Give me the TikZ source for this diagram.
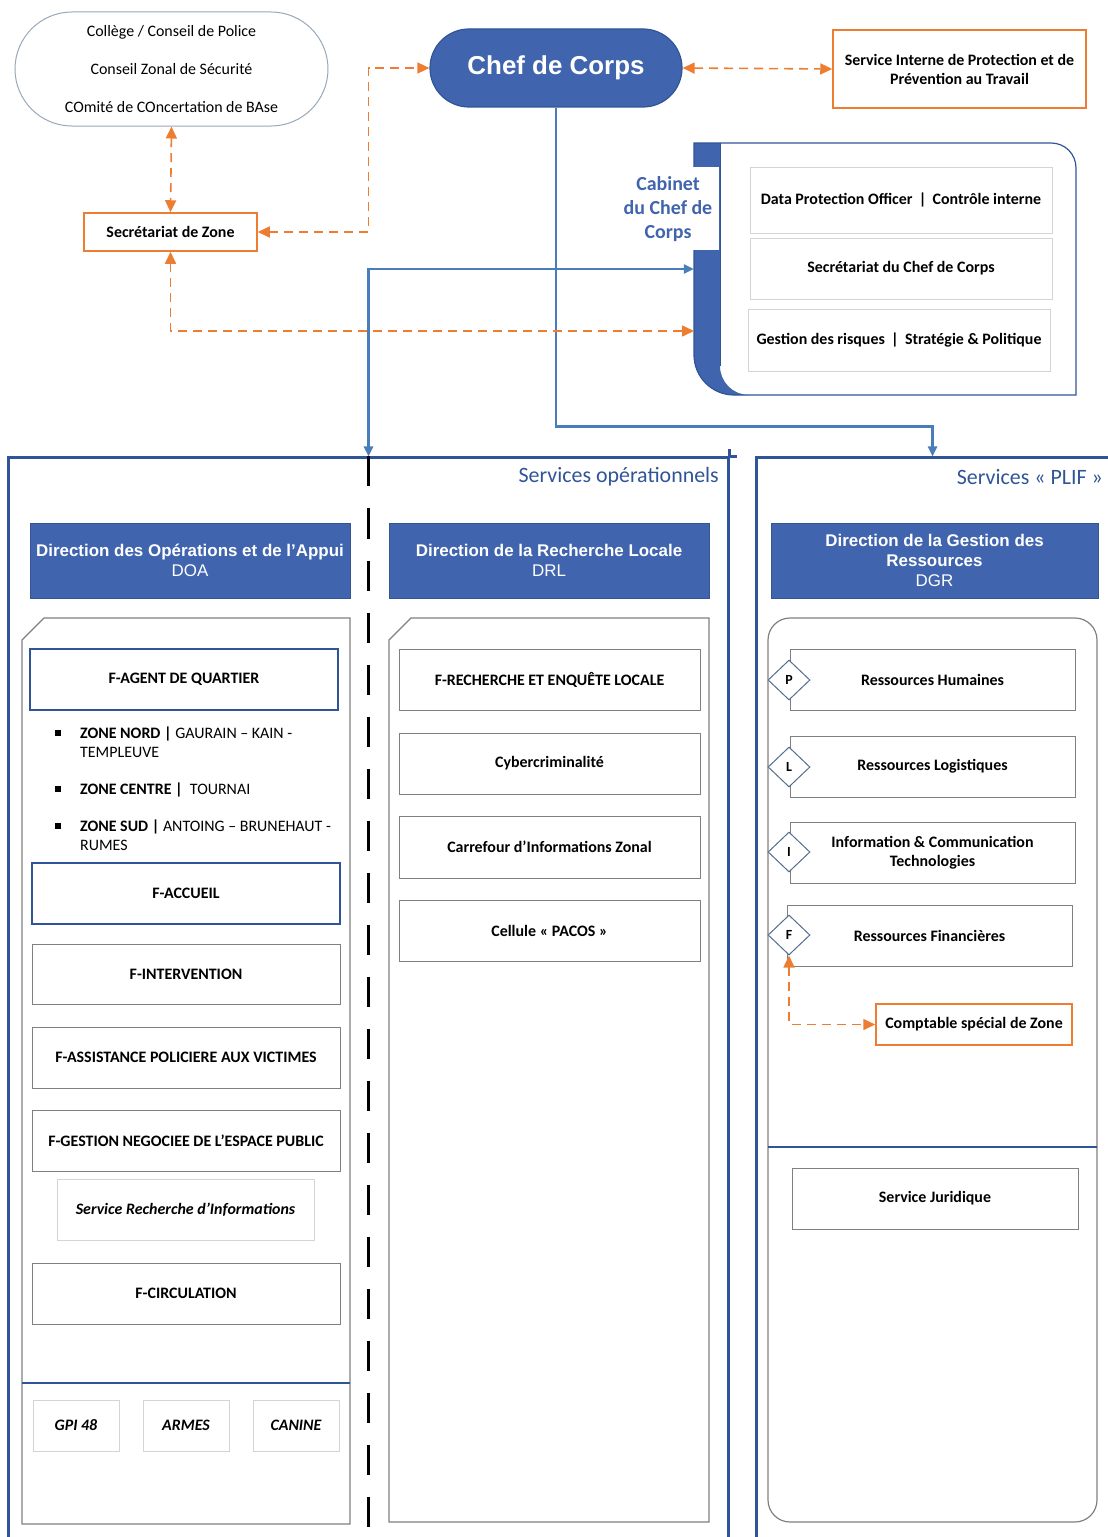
\documentclass[tikz,border=0pt]{standalone}
\usepackage{fontspec}
\setmainfont{Carlito}
\newfontfamily\arialfont{Liberation Sans}
\usetikzlibrary{arrows.meta,shapes.geometric}

\definecolor{hdrblue}{RGB}{64,100,173}
\definecolor{frameblue}{RGB}{47,85,151}
\definecolor{linkblue}{RGB}{74,126,187}
\definecolor{orng}{RGB}{237,125,49}
\definecolor{boxgray}{RGB}{128,128,128}
\definecolor{softgray}{RGB}{212,212,212}
\definecolor{tagline}{RGB}{84,110,140}

\tikzset{
  txt/.style={font=\fontsize{16}{19}\selectfont\bfseries, align=center, inner sep=0pt},
  itxt/.style={font=\fontsize{16}{19}\selectfont\bfseries\itshape},
  orbox/.style={txt, draw=orng, line width=1.5bp},
  cell/.style={txt, draw=boxgray, line width=0.8bp, minimum width=308bp, minimum height=61bp},
  keycell/.style={cell, draw=frameblue, line width=1.5bp},
  soft/.style={txt, draw=softgray, line width=0.8bp},
  hdr/.style={fill=hdrblue, draw=hdrblue!85!black, text=white, align=center, inner sep=0pt,
    font=\arialfont\fontsize{17}{20}\selectfont, minimum width=320bp, minimum height=75bp},
  tag/.style={diamond, draw=tagline, fill=white, line width=1bp, minimum width=42bp,
    minimum height=40bp, inner sep=0pt, font=\fontsize{14}{16}\selectfont\bfseries},
  orlink/.style={draw=orng, line width=1.6bp, dash pattern=on 9bp off 6bp},
  link/.style={draw=linkblue, line width=2.4bp},
  frame/.style={draw=frameblue, line width=3bp, inner sep=0pt},
  sep/.style={draw=black, line width=2.6bp, dash pattern=on 30bp off 22bp},
  zone/.style={font=\fontsize{16}{19}\selectfont, anchor=base west, inner sep=0pt},
  svc/.style={text=frameblue, font=\fontsize{22}{26}\selectfont, anchor=east, inner sep=0pt}
}

\begin{document}
\begin{tikzpicture}[x=1bp, y=-1bp, >={Triangle[length=12bp,width=11bp]}]
\useasboundingbox (0,0) rectangle (1107,1537);

\node[txt, font=\fontsize{16}{19}\selectfont, draw=tagline!60, line width=1bp, rounded corners=57bp,
  minimum width=313bp, minimum height=114bp] (college) at (171.5,69)
  {Collège / Conseil de Police\\[19bp]Conseil Zonal de Sécurité\\[19bp]COmité de COncertation de BAse};
\node[fill=hdrblue, draw=frameblue, line width=1.2bp, text=white, rounded corners=39bp,
  minimum width=252bp, minimum height=78bp, font=\arialfont\bfseries\fontsize{26}{30}\selectfont]
  (chef) at (556,68) {Chef de Corps};
\node[orbox, minimum width=253bp, minimum height=78bp] (sippt) at (959.5,69)
  {Service Interne de Protection et de\\Prévention au Travail};
\node[orbox, minimum width=173bp, minimum height=38bp] (secz) at (170.5,232) {Secrétariat de Zone};

\node[minimum width=382bp, minimum height=252bp, inner sep=0pt] (cab) at (885,269) {};
\fill[hdrblue] (694,143) -- (720,143) -- (720,366) .. controls (720,382) and (733,395) .. (749,395)
  -- (734,395) .. controls (712,395) and (694,377) .. (694,355) -- cycle;
\draw[frameblue, line width=1.2bp] (694,143) -- (1051,143) .. controls (1065,143) and (1076,154) .. (1076,168)
  -- (1076,395) -- (734,395) .. controls (712,395) and (694,377) .. (694,355) -- cycle;
\fill[white] (692,167) rectangle (719.4,250);
\draw[frameblue, line width=1bp] (720,143) -- (720,366);
\node[txt, text=hdrblue, font=\fontsize{20}{24}\selectfont\bfseries] (cabtxt) at (668,209)
  {Cabinet\\du Chef de\\Corps};
\node[soft, minimum width=302bp, minimum height=66bp] (dpo) at (901,200)
  {Data Protection Officer \,|\, Contrôle interne};
\node[soft, minimum width=302bp, minimum height=61bp] (secc) at (901,268.5) {Secrétariat du Chef de Corps};
\node[soft, minimum width=302bp, minimum height=62bp] (risq) at (899,340)
  {Gestion des risques \,|\, Stratégie \& Politique};

\node[frame, minimum width=719bp, minimum height=1102bp] (ops) at (368.5,1009) {};
\draw[frame] ([yshift=7bp]ops.north east) -- (ops.north east) -- ([xshift=7bp]ops.north east);
\node[frame, minimum width=364bp, minimum height=1102bp] (plif) at (938,1009) {};
\coordinate (plifin) at ([xshift=178bp]plif.north west);
\draw[sep] (ops.north) -- (368.5,1530);
\node[svc] (opslbl) at (719,477) {Services opérationnels};
\node[svc] (pliflbl) at (1103,477) {Services « PLIF »};

\node[hdr] (doa) at (190,560.5) {\textbf{Direction des Opérations et de l’Appui}\\DOA};
\node[hdr] (drl) at (549,560.5) {\textbf{Direction de la Recherche Locale}\\DRL};
\node[hdr, minimum width=327bp] (dgr) at (934.5,560.5)
  {\textbf{Direction de la Gestion des}\\\textbf{Ressources}\\DGR};

\draw[boxgray, line width=1.2bp] (22,640) -- (44,618) -- (350,618) -- (350,1524) -- (22,1524) -- cycle;
\draw[frameblue, line width=1.5bp] (22,1383) -- (350,1383);
\draw[boxgray, line width=1.2bp] (389,640) -- (411,618) -- (709,618) -- (709,1522) -- (389,1522) -- cycle;
\draw[boxgray, line width=1.2bp, rounded corners=22bp] (768,618) rectangle (1097,1522);
\draw[frameblue, line width=1.5bp] (768,1147) -- (1097,1147);

\node[keycell] (agent) at (184,679.5) {F-AGENT DE QUARTIER};
\fill (55,730) rectangle (61,736);
\fill (55,786) rectangle (61,792);
\fill (55,823) rectangle (61,829);
\node[zone] (znord) at (80,738) {\textbf{ZONE NORD |} GAURAIN – KAIN -};
\node[zone] (znordb) at (80,757) {TEMPLEUVE};
\node[zone] (zcentre) at (80,794) {\textbf{ZONE CENTRE |}\ \ TOURNAI};
\node[zone] (zsud) at (80,831) {\textbf{ZONE SUD |} ANTOING – BRUNEHAUT -};
\node[zone] (zsudb) at (80,850) {RUMES};
\node[keycell] (accueil) at (186,893.5) {F-ACCUEIL};
\node[cell, minimum height=60bp] (interv) at (186,974) {F-INTERVENTION};
\node[cell] (assist) at (186,1057.5) {F-ASSISTANCE POLICIERE AUX VICTIMES};
\node[cell] (gestion) at (186,1140.5) {F-GESTION NEGOCIEE DE L’ESPACE PUBLIC};
\node[soft, itxt, minimum width=257bp, minimum height=61bp] (sri) at (185.5,1209.5)
  {Service Recherche d’Informations};
\node[cell] (circ) at (186,1293.5) {F-CIRCULATION};
\node[soft, itxt, minimum width=86bp, minimum height=51bp] (gpi) at (76,1425.5) {GPI 48};
\node[soft, itxt, minimum width=86bp, minimum height=51bp] (armes) at (186,1425.5) {ARMES};
\node[soft, itxt, minimum width=86bp, minimum height=51bp] (canine) at (296,1425.5) {CANINE};

\node[cell, minimum width=301bp] (rel) at (549.5,679.5) {F-RECHERCHE ET ENQUÊTE LOCALE};
\node[cell, minimum width=301bp] (cyber) at (549.5,763.5) {Cybercriminalité};
\node[cell, minimum width=301bp, minimum height=62bp] (ciz) at (549.5,847) {Carrefour d’Informations Zonal};
\node[cell, minimum width=301bp] (pacos) at (549.5,930.5) {Cellule « PACOS »};

\node[cell, minimum width=285bp] (rh) at (932.5,679.5) {Ressources Humaines};
\node[tag] (tagp) at (789,680) {P};
\node[cell, minimum width=285bp] (rl) at (932.5,766.5) {Ressources Logistiques};
\node[tag] (tagl) at (789,767) {L};
\node[cell, minimum width=285bp] (ict) at (932.5,852.5) {Information \& Communication\\Technologies};
\node[tag] (tagi) at (789,852) {I};
\node[cell, minimum width=285bp] (rf) at (929.5,935.5) {Ressources Financières};
\node[tag] (tagf) at (789,935) {F};
\node[orbox, minimum width=196bp, minimum height=41bp] (compt) at (974,1024.5) {Comptable spécial de Zone};
\node[cell, minimum width=286bp] (juri) at (935,1198.5) {Service Juridique};

\draw[link, ->, >={Triangle[length=10bp,width=9bp]}] (chef.south) |- ([yshift=30bp]plifin) -- (plifin);
\draw[link, <->, >={Triangle[length=10bp,width=9bp]}] (cab.west) -- (cab.west -| ops.north) -- (ops.north);

\coordinate (cabo) at (694,331);
\draw[orlink, <->] (secz.east) -| (ops.north |- chef.west) -- (chef.west);
\draw[orlink, <->] (chef.east) -- (sippt.west);
\draw[orlink, <->] (college.south) -- (secz.north);
\draw[orlink, <->] (secz.south) |- (cabo);
\draw[orlink, <->] (tagf.south) |- (compt.west);
\end{tikzpicture}
\end{document}
